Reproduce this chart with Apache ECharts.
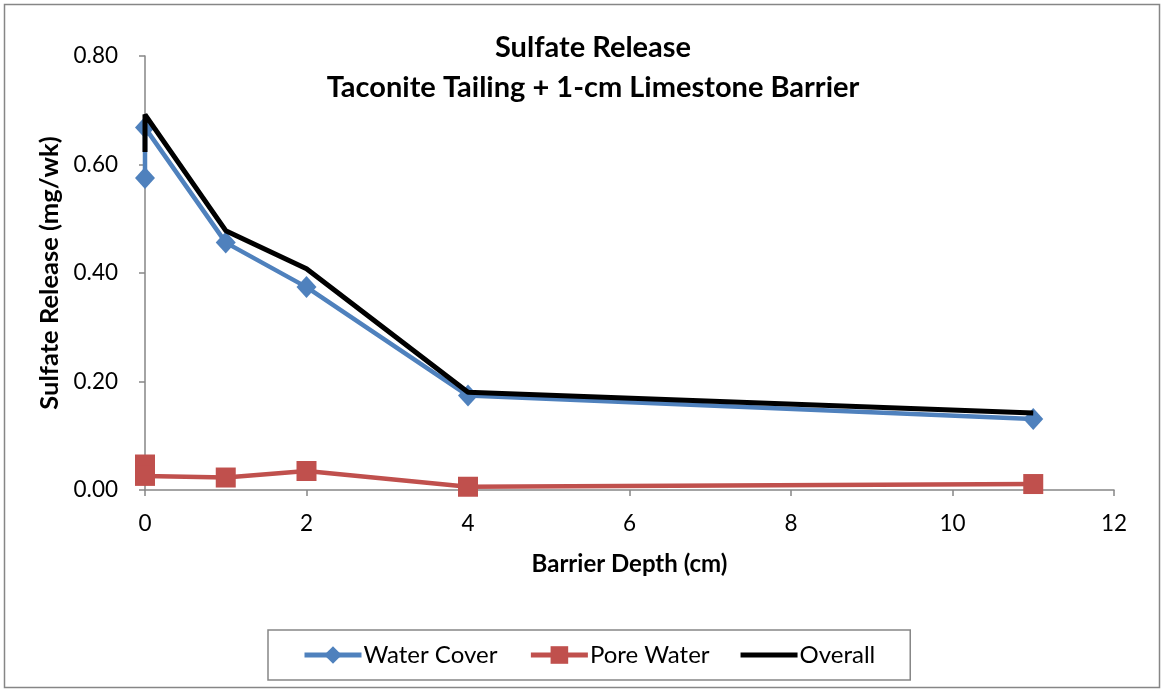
<!DOCTYPE html>
<html><head><meta charset="utf-8">
<script src="https://cdn.jsdelivr.net/npm/echarts@6/dist/echarts.min.js"></script>
<style>html,body{margin:0;padding:0;background:#fff}#c{width:1165px;height:692px}</style>
</head><body><div id="c"></div>
<script>
const titleLines = ["Sulfate Release", "Taconite Tailing + 1-cm Limestone Barrier"];
const xAxisName = "Barrier Depth (cm)";
const yAxisName = "Sulfate Release (mg/wk)";
const waterCoverX = [0, 0, 1, 2, 4, 11];
const waterCoverY = [0.575, 0.668, 0.456, 0.374, 0.174, 0.131];
const poreWaterX = [0, 0, 1, 2, 4, 11];
const poreWaterY = [0.047, 0.026, 0.023, 0.035, 0.006, 0.011];
const overallX = [0, 0, 1, 2, 4, 11];
const overallY = [0.623, 0.692, 0.478, 0.408, 0.180, 0.142];
const seriesNames = ["Water Cover", "Pore Water", "Overall"];

const pairs = (xs, ys) => xs.map((x, i) => [x, ys[i]]);
const font = "Lato, 'Open Sans', sans-serif";
const axisColor = '#868686';

const chart = echarts.init(document.getElementById('c'));
chart.setOption({
  animation: false,
  backgroundColor: '#fff',
  graphic: [{type: 'rect', shape: {x: 4.5, y: 4.5, width: 1155, height: 683}, style: {fill: 'none', stroke: '#868686', lineWidth: 1.5}}],
  title: {
    text: titleLines.join('\n'), left: 588, top: 23, textAlign: 'center',
    textStyle: {fontFamily: font, fontWeight: 'bold', fontSize: 29, lineHeight: 40, color: '#000'}
  },
  grid: {left: 145, right: 51, top: 56, bottom: 202, containLabel: false},
  xAxis: {
    type: 'value', min: 0, max: 12, interval: 2,
    name: xAxisName, nameLocation: 'middle', nameGap: 62,
    nameTextStyle: {fontFamily: font, fontWeight: 'bold', fontSize: 24, color: '#000'},
    axisLine: {show: true, onZero: false, lineStyle: {color: axisColor, width: 1.5}},
    axisTick: {show: true, length: 6, lineStyle: {color: axisColor, width: 1.5}},
    axisLabel: {fontFamily: font, fontSize: 22.5, color: '#000', margin: 22},
    splitLine: {show: false}
  },
  yAxis: {
    type: 'value', min: 0, max: 0.8, interval: 0.2,
    name: yAxisName, nameLocation: 'middle', nameGap: 82, nameRotate: 90,
    nameTextStyle: {fontFamily: font, fontWeight: 'bold', fontSize: 25.5, color: '#000'},
    axisLine: {show: true, lineStyle: {color: axisColor, width: 1.5}},
    axisTick: {show: true, length: 6, lineStyle: {color: axisColor, width: 1.5}},
    axisLabel: {fontFamily: font, fontSize: 22.5, color: '#000', margin: 27, formatter: v => v.toFixed(2)},
    splitLine: {show: false}
  },
  legend: {
    left: 268, top: 630,
    padding: [13, 35, 13, 34],
    borderColor: '#868686', borderWidth: 1.5,
    itemWidth: 57, itemHeight: 22, itemGap: 31,
    lineStyle: {width: 5},
    textStyle: {fontFamily: font, fontSize: 24, color: '#000', padding: [0, 0, 0, -3]},
    data: [
      {name: seriesNames[0]},
      {name: seriesNames[1]},
      {name: seriesNames[2], icon: 'path://M0,0H57V5H0Z'}
    ]
  },
  series: [
    {name: seriesNames[0], type: 'line', data: pairs(waterCoverX, waterCoverY),
     symbol: 'diamond', symbolSize: [20, 22], color: '#4F81BD',
     lineStyle: {width: 4.5, color: '#4F81BD'}, itemStyle: {color: '#4F81BD'}, z: 2},
    {name: seriesNames[1], type: 'line', data: pairs(poreWaterX, poreWaterY),
     symbol: 'rect', symbolSize: 20, color: '#C0504D',
     lineStyle: {width: 4.5, color: '#C0504D'}, itemStyle: {color: '#C0504D'}, z: 2},
    {name: seriesNames[2], type: 'line', data: pairs(overallX, overallY),
     symbol: 'none', showSymbol: false, color: '#000',
     lineStyle: {width: 5, color: '#000'}, itemStyle: {color: '#000'}, z: 3}
  ]
});
</script></body></html>
